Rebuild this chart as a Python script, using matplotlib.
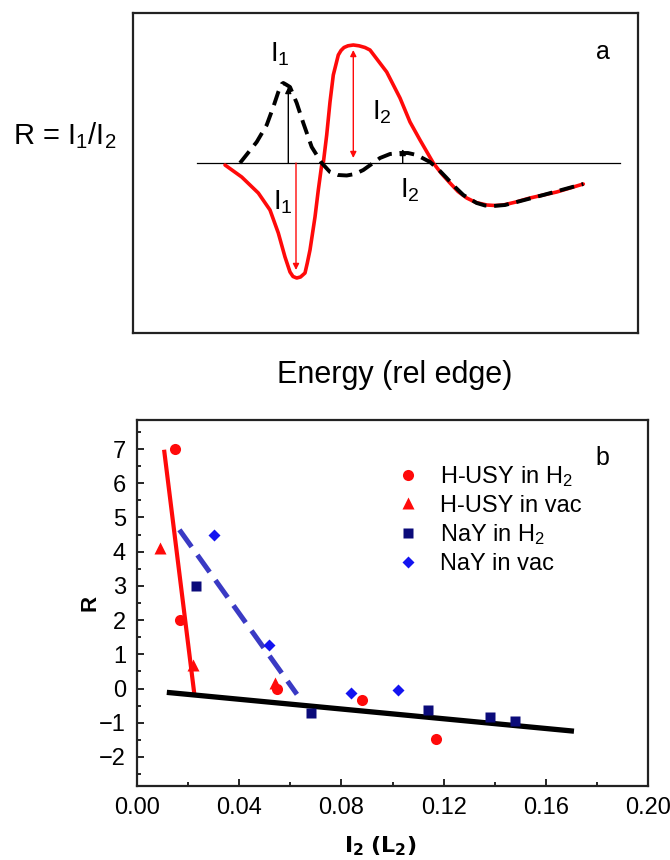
import numpy as np
import matplotlib
matplotlib.use("Agg")
import matplotlib.pyplot as plt
from matplotlib.lines import Line2D

plt.rcParams['font.family'] = ['Liberation Sans', 'DejaVu Sans']
plt.rcParams['mathtext.default'] = 'regular'

# ---- panel a: schematic XANES difference spectra (arb. units) ----
e_red = [-7.5, -5.83, -4.17, -3.0, -2.17, -1.5, -1.0, -0.7, -0.33, 0.05,
         0.5, 0.73, 1.0, 1.5, 1.83, 2.17, 2.33, 2.67, 3.0, 3.33, 3.83, 4.1,
         4.4, 4.8, 5.33, 5.9, 6.5, 7.0, 8.67, 10.0, 11.0, 12.0, 13.33, 14.1,
         15.0, 15.8, 16.67, 17.6, 18.67, 19.5, 20.33, 21.6, 23.0, 25.67,
         28.33]
i_red = [-0.02, -0.14, -0.30, -0.47, -0.70, -0.94, -1.09, -1.135, -1.15,
         -1.14, -1.10, -1.00, -0.87, -0.54, -0.27, -0.02, 0.0, 0.28, 0.61,
         0.88, 1.08, 1.125, 1.155, 1.172, 1.18, 1.172, 1.155, 1.13, 0.91,
         0.65, 0.41, 0.23, 0.0, -0.10, -0.20, -0.285, -0.35, -0.395, -0.42,
         -0.425, -0.42, -0.39, -0.35, -0.29, -0.21]

e_blk = [-6.0, -4.33, -3.33, -2.67, -2.17, -1.83, -1.67, -1.4, -1.0, -0.33,
         0.33, 1.17, 2.17, 3.0, 3.8, 4.67, 5.5, 6.33, 7.1, 8.0, 9.0, 10.0,
         10.8, 11.67, 13.0, 13.8, 14.67, 15.5, 16.33, 17.67, 18.5, 19.33,
         20.5, 21.67, 24.33, 28.33]
i_blk = [0.0, 0.21, 0.38, 0.56, 0.71, 0.79, 0.80, 0.785, 0.76, 0.60, 0.40,
         0.16, 0.0, -0.09, -0.12, -0.125, -0.11, -0.07, -0.015, 0.05, 0.09,
         0.10, 0.10, 0.08, 0.01, -0.06, -0.15, -0.24, -0.32, -0.40, -0.425,
         -0.43, -0.42, -0.39, -0.32, -0.21]

# ---- panel b: R vs I2 ----
husy_h2_x = [0.0150, 0.0170, 0.0548, 0.0879, 0.1170]
husy_h2_y = [7.00, 2.01, 0.00, -0.34, -1.47]
husy_vac_x = [0.0090, 0.0220, 0.0540]
husy_vac_y = [4.10, 0.68, 0.15]
nay_h2_x = [0.0230, 0.0680, 0.1140, 0.1380, 0.1480]
nay_h2_y = [2.99, -0.71, -0.63, -0.82, -0.95]
nay_vac_x = [0.0303, 0.0518, 0.0839, 0.1020]
nay_vac_y = [4.48, 1.26, -0.14, -0.05]

fit_husy_x = [0.0107, 0.0224]
fit_husy_y = [6.92, -0.14]
fit_nay_x = [0.0166, 0.0626]
fit_nay_y = [4.64, -0.17]
fit_all_x = [0.0127, 0.170]
fit_all_y = [-0.12, -1.24]

RED = '#ff0a0a'
NAVY = '#0b0b7a'
BLUE = '#1414f0'
DBLUE = '#3a3ac4'

fig = plt.figure(figsize=(6.7, 8.6), dpi=100)

# panel a
ax1 = fig.add_axes([133 / 670, 1 - 333 / 860, 505 / 670, 320 / 860])
ax1.set_xlim(-16.7, 33.8)
ax1.set_ylim(-1.7, 1.5)
ax1.set_xticks([])
ax1.set_yticks([])
for s in ax1.spines.values():
    s.set_linewidth(1.6)
    s.set_color('#222222')

ax1.plot([-10.3, 32.0], [0, 0], color='black', lw=0.9, zorder=1)
ax1.plot(e_red, i_red, color=RED, lw=2.6, solid_joinstyle='round',
         solid_capstyle='round', zorder=3)
ax1.plot(e_blk, i_blk, color='black', lw=2.8, dashes=(3.8, 2.0),
         dash_joinstyle='round', zorder=4)

arr_k = dict(arrowstyle='-|>', color='black', lw=1.0, mutation_scale=9,
             shrinkA=0, shrinkB=0)
arr_r = dict(arrowstyle='-|>', color=RED, lw=1.0, mutation_scale=9,
             shrinkA=0, shrinkB=0)
arr_rr = dict(arrowstyle='<|-|>', color=RED, lw=1.0, mutation_scale=9,
              shrinkA=0, shrinkB=0)
ax1.annotate('', xy=(-1.17, 0.76), xytext=(-1.17, 0), arrowprops=arr_k)
ax1.annotate('', xy=(-0.40, -1.07), xytext=(-0.40, 0), arrowprops=arr_r)
ax1.annotate('', xy=(5.33, 1.13), xytext=(5.33, 0.05), arrowprops=arr_rr)
ax1.annotate('', xy=(10.27, 0.14), xytext=(10.27, 0), arrowprops=arr_k)

fs_a = 20
ax1.text(-3.0, 1.01, 'I$_1$', fontsize=fs_a, va='baseline')
ax1.text(7.2, 0.43, 'I$_2$', fontsize=fs_a, va='baseline')
ax1.text(-2.7, -0.47, 'I$_1$', fontsize=fs_a, va='baseline')
ax1.text(10.0, -0.34, 'I$_2$', fontsize=fs_a, va='baseline')
ax1.text(0.93, 0.878, 'a', fontsize=18, transform=ax1.transAxes,
         ha='center', va='center')

fig.text(13 / 670, 1 - 136 / 860, 'R = I$_1$/I$_2$', fontsize=21,
         ha='left', va='center')
fig.text(395 / 670, 1 - 375 / 860, 'Energy (rel edge)', fontsize=22,
         ha='center', va='center')

# panel b
ax2 = fig.add_axes([137 / 670, 1 - 786 / 860, 511 / 670, 366 / 860])
ax2.plot(fit_husy_x, fit_husy_y, color=RED, lw=3.0, zorder=2)
ax2.plot(fit_nay_x, fit_nay_y, color=DBLUE, lw=3.6, dashes=(4.2, 2.0),
         zorder=2)
ax2.plot(fit_all_x, fit_all_y, color='black', lw=3.8, zorder=2)

ax2.plot(husy_h2_x, husy_h2_y, 'o', color=RED, ms=8, mec='none', zorder=3)
ax2.plot(husy_vac_x, husy_vac_y, '^', color=RED, ms=8, mec='none', zorder=3)
ax2.plot(nay_h2_x, nay_h2_y, 's', color=NAVY, ms=7.5, mec='none', zorder=3)
ax2.plot(nay_vac_x, nay_vac_y, 'D', color=BLUE, ms=6, mec='none', zorder=3)

ax2.set_xlim(0, 0.20)
ax2.set_ylim(-2.85, 7.85)
ax2.set_xticks(np.arange(0, 0.201, 0.04))
ax2.set_xticklabels(['0.00', '0.04', '0.08', '0.12', '0.16', '0.20'])
ax2.set_xticks(np.arange(0.02, 0.2, 0.04), minor=True)
ax2.set_yticks(range(-2, 8))
ax2.set_yticks(np.arange(-2.5, 8, 1.0), minor=True)
ax2.tick_params(which='both', direction='in', top=False, right=False,
                labelsize=17, width=1.2)
ax2.tick_params(which='major', length=5, pad=8)
ax2.tick_params(which='minor', length=3)
for s in ax2.spines.values():
    s.set_linewidth(1.6)
    s.set_color('#222222')

fig.text(90 / 670, 1 - 603 / 860, 'R', fontsize=16, fontweight='bold',
         rotation=90, ha='center', va='center')
fig.text(380 / 670, 1 - 846 / 860, r'$\mathbf{I_2}$ $\mathbf{(L_2)}$',
         fontsize=16, ha='center', va='center')

handles = [
    Line2D([], [], ls='none', marker='o', color=RED, ms=8, mec='none'),
    Line2D([], [], ls='none', marker='^', color=RED, ms=8, mec='none'),
    Line2D([], [], ls='none', marker='s', color=NAVY, ms=7.5, mec='none'),
    Line2D([], [], ls='none', marker='D', color=BLUE, ms=6, mec='none'),
]
labels = ['H-USY in H$_2$', 'H-USY in vac', 'NaY in H$_2$', 'NaY in vac']
ax2.legend(handles, labels, loc='upper left', frameon=False, fontsize=17,
           bbox_to_anchor=(396 / 670, 1 - 464 / 860),
           bbox_transform=fig.transFigure, handlelength=1.0,
           handletextpad=0.85, labelspacing=0.24, borderpad=0,
           borderaxespad=0)
ax2.text(602 / 670, 1 - 458 / 860, 'b', fontsize=18, ha='center',
         va='center', transform=fig.transFigure)

fig.savefig('out.png', dpi=100)
